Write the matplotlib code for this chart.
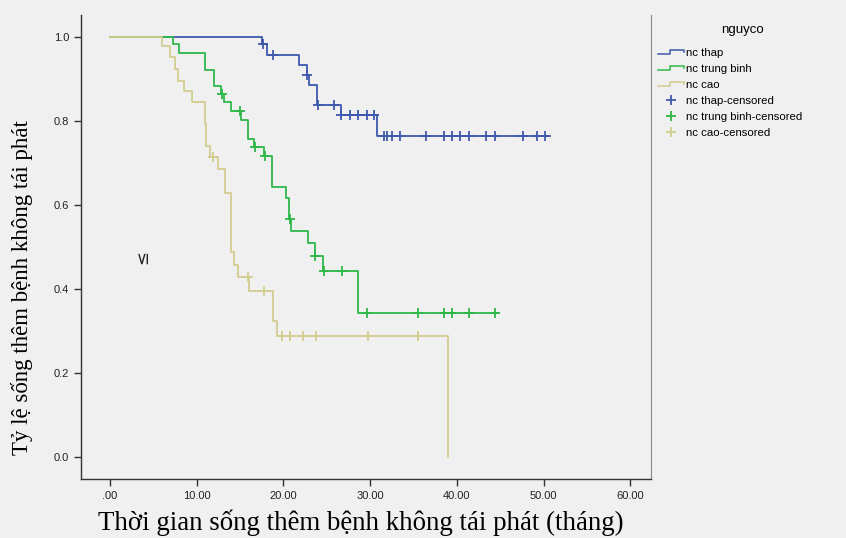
import numpy as np
import matplotlib
matplotlib.use("Agg")
import matplotlib.pyplot as plt
from matplotlib.lines import Line2D
from matplotlib.legend_handler import HandlerBase

# --- data (time in months, survival fraction) ---
thap_t = [0, 17.5, 18.1, 21.8, 22.7, 22.9, 23.9, 26.6, 30.8]
thap_s = [1.0, 0.982, 0.958, 0.934, 0.910, 0.886, 0.839, 0.813, 0.765]
thap_end = 50.7
thap_cens = [17.7, 18.8, 22.75, 23.95, 25.8, 26.65, 27.7, 28.6, 29.6, 30.5,
             31.6, 31.9, 32.5, 33.5, 36.4, 38.5, 39.4, 40.4, 41.4, 43.4,
             44.4, 47.6, 49.3, 50.2]

tb_t = [0, 7.3, 7.9, 10.9, 12.0, 12.85, 13.2, 14.0, 15.1, 15.9, 16.6, 17.8,
        18.7, 20.3, 20.7, 20.9, 22.8, 23.6, 24.6, 28.6]
tb_s = [1.0, 0.982, 0.962, 0.922, 0.883, 0.863, 0.844, 0.823, 0.803, 0.757,
        0.737, 0.717, 0.642, 0.616, 0.567, 0.539, 0.509, 0.478, 0.442, 0.343]
tb_end = 44.7
tb_cens = [12.9, 14.95, 16.7, 17.85, 20.75, 23.65, 24.7, 26.7, 29.6, 35.5,
           38.5, 39.4, 41.4, 44.4]

cao_t = [0, 6.0, 6.9, 7.5, 7.8, 8.5, 9.5, 10.9, 11.1, 11.5, 12.5, 13.3, 14.0,
         14.3, 14.8, 16.0, 18.8, 19.3, 39.0]
cao_s = [1.0, 0.979, 0.952, 0.924, 0.896, 0.872, 0.845, 0.793, 0.741, 0.714,
         0.686, 0.628, 0.487, 0.457, 0.428, 0.395, 0.325, 0.289, 0.0]
cao_end = 39.0
cao_cens = [11.9, 15.9, 17.8, 19.8, 20.8, 22.3, 23.7, 29.7, 35.5]

groups = ["nc thap", "nc trung binh", "nc cao"]
colors = ["#3E58AC", "#2EB848", "#D3CC8F"]

x_ticks = [0, 10, 20, 30, 40, 50, 60]
x_tick_labels = [".00", "10.00", "20.00", "30.00", "40.00", "50.00", "60.00"]
y_ticks = [0.0, 0.2, 0.4, 0.6, 0.8, 1.0]

bg = "#f0f0f0"


def surv_at(t, times, surv):
    idx = np.searchsorted(times, t, side="right") - 1
    return np.array(surv)[idx]


class StepHandler(HandlerBase):
    # little step icon like the SPSS legend
    def create_artists(self, legend, orig, xd, yd, w, h, fontsize, trans):
        xs = [0, 0.45 * w, 0.45 * w, w, w]
        ys = [0.2 * h, 0.2 * h, 0.75 * h, 0.75 * h, 0.45 * h]
        ln = Line2D(np.array(xs) - xd, np.array(ys) - yd,
                    color=orig.get_color(), lw=1.1)
        ln.set_transform(trans)
        return [ln]


fig = plt.figure(figsize=(8.46, 5.38), dpi=100, facecolor=bg)
ax = fig.add_axes([81 / 846, 1 - 479 / 538, (651 - 81) / 846, (479 - 15) / 538])
ax.set_facecolor(bg)

data = [(thap_t, thap_s, thap_end, thap_cens),
        (tb_t, tb_s, tb_end, tb_cens),
        (cao_t, cao_s, cao_end, cao_cens)]

step_handles = []
cens_handles = []
for (t, s, end, cens), col, name in zip(data, colors, groups):
    tt = list(t) + [end]
    ss = list(s) + [s[-1]]
    h, = ax.step(tt, ss, where="post", color=col, lw=1.3, label=name)
    cy = surv_at(np.array(cens), t, s)
    c, = ax.plot(cens, cy, ls="none", marker="+", ms=6.5, mew=1.3, color=col,
                 label=name + "-censored")
    step_handles.append(h)
    cens_handles.append(c)

ax.set_xlim(-3.35, 62.4)
ax.set_ylim(-0.052, 1.052)
ax.set_xticks(x_ticks)
ax.set_xticklabels(x_tick_labels)
ax.set_yticks(y_ticks)
ax.set_yticklabels([f"{v:.1f}" for v in y_ticks])
ax.tick_params(direction="out", length=5, width=1, labelsize=8, colors="#333333",
               labelcolor="#222222")
for lab in ax.get_xticklabels() + ax.get_yticklabels():
    lab.set_family("Liberation Sans")
for side in ["left", "bottom"]:
    ax.spines[side].set_color("#333333")
    ax.spines[side].set_linewidth(1.0)
ax.spines["top"].set_visible(False)
ax.spines["right"].set_color("#888888")
ax.spines["right"].set_linewidth(0.8)

fig.text(361 / 846, 1 - 523 / 538, "Thời gian sống thêm bệnh không tái phát (tháng)",
         family="Liberation Serif", fontsize=19.4, ha="center", va="center")
fig.text(22 / 846, 1 - 288 / 538, "Tỷ lệ sống thêm bệnh không tái phát",
         family="Liberation Serif", fontsize=16.5, ha="center", va="center",
         rotation=90)
ax.text(3.7, 0.475, "≤", family="DejaVu Sans", fontsize=12, rotation=90,
        ha="center", va="center", color="#222222")

fig.text(742 / 846, 1 - 30 / 538, "nguyco", family="Liberation Sans",
         fontsize=9.5, ha="center", va="center")
leg = fig.legend(step_handles + cens_handles,
                 [h.get_label() for h in step_handles + cens_handles],
                 handler_map={h: StepHandler() for h in step_handles},
                 loc="upper left", bbox_to_anchor=(658 / 846, 1 - 48 / 538),
                 frameon=False, fontsize=8.2, handlelength=2.3,
                 handletextpad=0.15, labelspacing=0.53, borderaxespad=0,
                 borderpad=0)
for txt in leg.get_texts():
    txt.set_family("Liberation Sans")

fig.savefig("out.png", dpi=100, facecolor=bg)
